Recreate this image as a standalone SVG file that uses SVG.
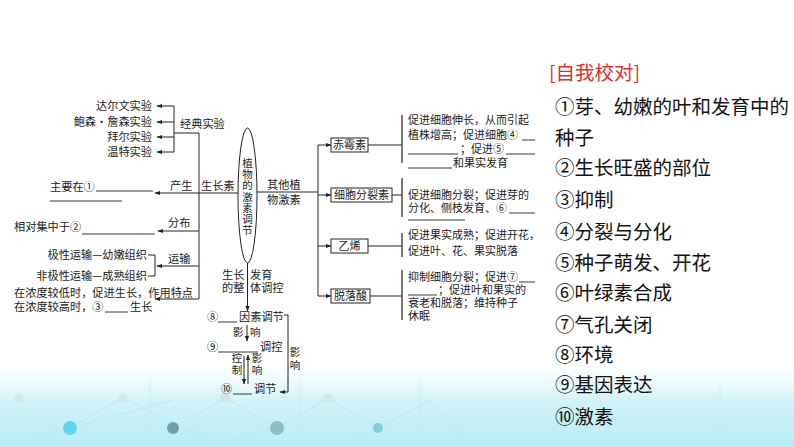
<svg xmlns="http://www.w3.org/2000/svg" width="794" height="447" viewBox="0 0 794 447">
<defs>
<linearGradient id="bg" x1="0" y1="0" x2="0" y2="1">
<stop offset="0" stop-color="#e6f8fb" stop-opacity="0"/>
<stop offset="0.45" stop-color="#d3f3f9"/>
<stop offset="1" stop-color="#b8ecf6"/>
</linearGradient>
<marker id="ah" markerWidth="6" markerHeight="6" refX="5" refY="3" orient="auto" markerUnits="userSpaceOnUse"><path d="M0,0.9 L5.5,3 L0,5.1 Z" fill="#222"/></marker>
<style>
text{font-family:"Noto Sans CJK SC","Noto Sans",sans-serif;fill:#1a1a1a}
.t{font-size:11.2px}
.r{font-size:11px}
.s{font-size:10.5px}
.e{text-anchor:end}
.m{text-anchor:middle}
.v{writing-mode:vertical-rl;text-orientation:upright}
.ans{font-size:19.5px;fill:#111}
.hd{font-size:19.5px;fill:#e0302c}
.ln{stroke:#222;stroke-width:1;fill:none}
.ar{marker-end:url(#ah)}
.box{fill:#fff;stroke:#222;stroke-width:1}
.u{stroke:#222;stroke-width:0.9}
.bar{stroke:#333;stroke-width:1.3}
.deco{stroke:#bfe9f1;stroke-width:1;fill:none}
</style>
</defs>
<rect width="794" height="447" fill="#fff"/>
<g id="background-decoration">
<rect x="0" y="362" width="794" height="85" fill="url(#bg)"/>
<path class="deco" d="M0,447 L70,428 L173,400 M70,428 L122,398 L225,447 M173,428 L225,398 L277,428 L328,398 L378,428 L430,400 M277,428 L200,447 M378,428 L330,447 M430,400 L470,447"/>
<path class="deco" d="M150,380 V447 M300,380 V447 M420,380 V447 M600,380 V447 M720,380 V447" opacity="0.6"/>
<circle cx="18" cy="398" r="5" fill="#d2eaee"/>
<circle cx="122" cy="398" r="5" fill="#d2eaee"/>
<circle cx="225" cy="398" r="5" fill="#d2e6ea"/>
<circle cx="328" cy="398" r="5" fill="#d2eaee"/>
<circle cx="70" cy="428" r="7" fill="#5dd6ea"/>
<circle cx="173" cy="428" r="6" fill="#6f9eab"/>
<circle cx="277" cy="428" r="7" fill="#8cbcc6"/>
<circle cx="378" cy="428" r="5" fill="#84cad8"/>
</g>

<g id="connectors">
<path class="ln" d="M174,106 V152 M174,133 H199 V299"/>
<path class="ln ar" d="M174,106 H157"/>
<path class="ln ar" d="M174,122 H157"/>
<path class="ln ar" d="M174,137 H157"/>
<path class="ln ar" d="M174,152 H157"/>
<path class="ln ar" d="M238,193 H155"/>
<path class="ln ar" d="M199,231 H158"/>
<path class="ln ar" d="M199,266 H157"/>
<path class="ln ar" d="M199,299 H155"/>
<path class="ln" d="M148,255 H155 V276 H148"/>
<path class="ln ar" d="M247.5,263 V311"/>
<path class="ln ar" d="M284,315 H288 V392 H280"/>
<path class="ln ar" d="M247,325 V341"/>
<path class="ln ar" d="M244,356 V384"/>
<path class="ln ar" d="M248,384 V355"/>
<path class="ln" d="M257,192 H318 M318,145 V296"/>
<path class="ln ar" d="M318,145 H331"/>
<path class="ln ar" d="M318,195 H331"/>
<path class="ln ar" d="M318,246 H331"/>
<path class="ln ar" d="M318,296 H331"/>
<path class="ln" d="M368,145 H402 M392,195 H402 M368,246 H402 M370,296 H402"/>
<path class="bar" d="M402,115 V163 M402,178 V217 M402,233 V257 M402,270 V320"/>
</g>

<g id="center">
<ellipse cx="247.5" cy="195.5" rx="9.5" ry="67.5" fill="#fff" stroke="#222" stroke-width="1"/>
<text class="s v" x="247.5" y="157.8" letter-spacing="0.67">植物的激素调节</text>
</g>

<g id="classic-experiments">
<text class="t e"><tspan x="152" y="110">达尔文实验</tspan><tspan x="152" y="126">鲍森·詹森实验</tspan><tspan x="152" y="141">拜尔实验</tspan><tspan x="152" y="156">温特实验</tspan></text>
<text class="t" x="180" y="128">经典实验</text>
</g>

<g id="auxin">
<text class="t" x="201" y="190">生长素</text>
<text class="t" x="170" y="190">产生</text>
<text class="t" x="50" y="191">主要在①</text>
<line class="u" x1="96" y1="191" x2="153" y2="191"/>
<line class="u" x1="50" y1="201" x2="122" y2="201"/>
<text class="t" x="168" y="227">分布</text>
<text class="t" x="14" y="231">相对集中于②</text>
<line class="u" x1="82" y1="234" x2="155" y2="234"/>
<text class="t" x="168" y="263">运输</text>
<text class="t e"><tspan x="147" y="259">极性运输—幼嫩组织</tspan><tspan x="147" y="280">非极性运输—成熟组织</tspan></text>
<text class="t"><tspan x="14" y="297">在浓度较低时，促进生长，作用特点</tspan><tspan x="14" y="311">在浓度较高时，③</tspan><tspan x="130" y="311">生长</tspan></text>
<line class="u" x1="105" y1="312" x2="128" y2="312"/>
</g>

<g id="regulation">
<text class="t"><tspan x="222" y="279">生长</tspan><tspan x="222" y="292">的整</tspan></text>
<text class="t"><tspan x="250" y="279">发育</tspan><tspan x="250" y="292">体调控</tspan></text>
<text class="t"><tspan x="207" y="321">⑧</tspan><tspan x="239" y="321">因素调节</tspan></text>
<line class="u" x1="218" y1="322" x2="237" y2="322"/>
<text class="s"><tspan x="233" y="336">影</tspan><tspan x="250" y="336">响</tspan></text>
<text class="t"><tspan x="207" y="351">⑨</tspan><tspan x="260" y="351">调控</tspan></text>
<line class="u" x1="218" y1="352" x2="258" y2="352"/>
<text class="s v" x="237" y="352.8" letter-spacing="1.5">控制</text>
<text class="s v" x="257" y="352.8" letter-spacing="1.5">影响</text>
<text class="t"><tspan x="221" y="393">⑩</tspan><tspan x="254" y="393">调节</tspan></text>
<line class="u" x1="233" y1="394" x2="252" y2="394"/>
<text class="s v" x="295" y="346.8" letter-spacing="2.5">影响</text>
</g>

<g id="other-hormones">
<text class="t"><tspan x="267" y="189">其他植</tspan><tspan x="267" y="204">物激素</tspan></text>
</g>

<g id="gibberellin">
<rect class="box" x="331" y="138" width="37" height="14"/>
<text class="r m" x="349.5" y="149">赤霉素</text>
<text class="r"><tspan x="408" y="124">促进细胞伸长，从而引起</tspan><tspan x="408" y="139">植株增高；促进细胞④</tspan><tspan x="460" y="153">；促进⑤</tspan><tspan x="453" y="167">和果实发育</tspan></text>
<line class="u" x1="522" y1="140" x2="535" y2="140"/>
<line class="u" x1="408" y1="154" x2="458" y2="154"/>
<line class="u" x1="506" y1="154" x2="535" y2="154"/>
<line class="u" x1="408" y1="168" x2="452" y2="168"/>
</g>

<g id="cytokinin">
<rect class="box" x="331" y="188" width="61" height="14"/>
<text class="r m" x="361.5" y="199">细胞分裂素</text>
<text class="r"><tspan x="408" y="199">促进细胞分裂；促进芽的</tspan><tspan x="408" y="212">分化、侧枝发育、⑥</tspan></text>
<line class="u" x1="509" y1="213" x2="535" y2="213"/>
<line class="u" x1="408" y1="220" x2="465" y2="220"/>
</g>

<g id="ethylene">
<rect class="box" x="331" y="239" width="37" height="14"/>
<text class="r m" x="349.5" y="250">乙烯</text>
<text class="r"><tspan x="408" y="239">促进果实成熟；促进开花，</tspan><tspan x="408" y="255">促进叶、花、果实脱落</tspan></text>
</g>

<g id="abscisic-acid">
<rect class="box" x="331" y="289" width="39" height="14"/>
<text class="r m" x="350.5" y="300">脱落酸</text>
<text class="r"><tspan x="408" y="281">抑制细胞分裂；促进⑦</tspan><tspan x="438" y="294">；促进叶和果实的</tspan><tspan x="408" y="307">衰老和脱落；维持种子</tspan><tspan x="408" y="320">休眠</tspan></text>
<line class="u" x1="519" y1="282" x2="535" y2="282"/>
<line class="u" x1="408" y1="295" x2="437" y2="295"/>
</g>

<g id="answers">
<text class="hd" x="549" y="80">[自我校对]</text>
<text class="ans"><tspan x="555" y="114">①芽、幼嫩的叶和发育中的</tspan><tspan x="555" y="145">种子</tspan><tspan x="555" y="175">②生长旺盛的部位</tspan><tspan x="555" y="207">③抑制</tspan><tspan x="555" y="239">④分裂与分化</tspan><tspan x="555" y="270">⑤种子萌发、开花</tspan><tspan x="555" y="300">⑥叶绿素合成</tspan><tspan x="555" y="332">⑦气孔关闭</tspan><tspan x="555" y="362">⑧环境</tspan><tspan x="555" y="392">⑨基因表达</tspan><tspan x="555" y="424">⑩激素</tspan></text>
</g>
</svg>
